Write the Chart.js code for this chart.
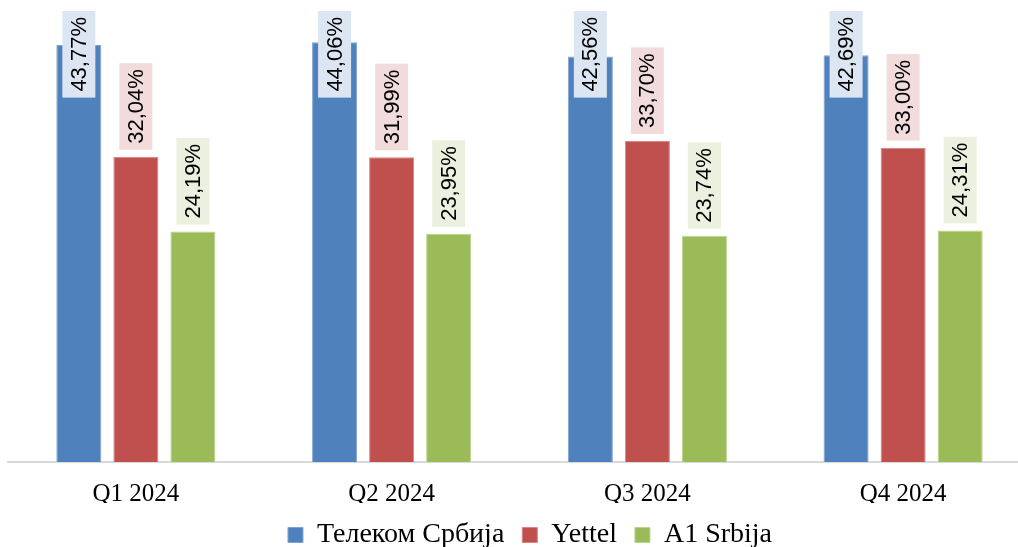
<!DOCTYPE html>
<html>
<head>
<meta charset="utf-8">
<script src="https://cdn.jsdelivr.net/npm/chart.js@4"></script>
<style>
    html, body { margin: 0; padding: 0; background: #fff; overflow: hidden; }
    #wrap { position: relative; width: 1052px; height: 547px; }
</style>
</head>
<body>
<div id="wrap"><canvas id="graph"></canvas></div>
<script>
const quarters = ['Q1 2024', 'Q2 2024', 'Q3 2024', 'Q4 2024'];
const telekom = [43.77, 44.06, 42.56, 42.69];
const yettel = [32.04, 31.99, 33.70, 33.00];
const a1 = [24.19, 23.95, 23.74, 24.31];

const labelBg = ['#dce6f2', '#f2dcdb', '#ebf1de'];

// rotated value labels with a light box, pushed down when they hit the top
const valueLabels = {
    id: 'valueLabels',
    afterDatasetsDraw(chart) {
        const ctx = chart.ctx;
        chart.data.datasets.forEach((ds, i) => {
            const meta = chart.getDatasetMeta(i);
            meta.data.forEach((bar, j) => {
                ctx.save();
                ctx.font = '22px "Liberation Sans"';
                const text = ds.data[j].toFixed(2).replace('.', ',') + '%';
                const h = ctx.measureText(text).width + 12;
                const w = 33;
                let top = bar.y - 7 - h;
                if (top < 11) top = 11;
                ctx.fillStyle = labelBg[i];
                ctx.fillRect(bar.x - w / 2, top, w, h);
                ctx.translate(bar.x, top + h / 2);
                ctx.rotate(-Math.PI / 2);
                ctx.fillStyle = '#000';
                ctx.textAlign = 'center';
                ctx.textBaseline = 'middle';
                ctx.fillText(text, 0, 1);
                ctx.restore();
            });
        });
    }
};

const graph = document.getElementById('graph').getContext('2d');

new Chart(graph, {
    type: 'bar',
    data: {
        labels: quarters,
        datasets: [{
            label: 'Телеком Србија',
            data: telekom,
            backgroundColor: '#4f81bd',
            borderColor: '#7fa3d0',
            borderWidth: 1
        },
        {
            label: 'Yettel',
            data: yettel,
            backgroundColor: '#c0504d',
            borderColor: '#d88583',
            borderWidth: 1
        },
        {
            label: 'A1 Srbija',
            data: a1,
            backgroundColor: '#9bbb59',
            borderColor: '#bcd38e',
            borderWidth: 1
        }]
    },
    options: {
        responsive: true,
        maintainAspectRatio: false,
        animation: false,
        datasets: {
            bar: { barPercentage: 0.79, categoryPercentage: 0.669 }
        },
        layout: { padding: { top: 0, left: 8, right: 0, bottom: -12 } },
        scales: {
            x: {
                grid: { display: false },
                border: { display: true, color: '#d9d9d9', width: 2 },
                ticks: {
                    color: '#000',
                    padding: 9,
                    font: { family: '"Liberation Serif"', size: 25 }
                },
                afterFit: (scale) => { scale.height = 41; }
            },
            y: {
                position: 'right',
                min: 0,
                max: 48.5,
                grid: { display: false },
                border: { display: false },
                ticks: { display: false },
                afterFit: (scale) => { scale.width = 21; }
            }
        },
        plugins: {
            legend: {
                position: 'bottom',
                labels: {
                    color: '#000',
                    boxWidth: 15,
                    boxHeight: 15,
                    padding: 18,
                    font: { family: '"Liberation Serif"', size: 28 }
                }
            },
            tooltip: { enabled: false }
        }
    },
    plugins: [valueLabels]
});
</script>
</body>
</html>
